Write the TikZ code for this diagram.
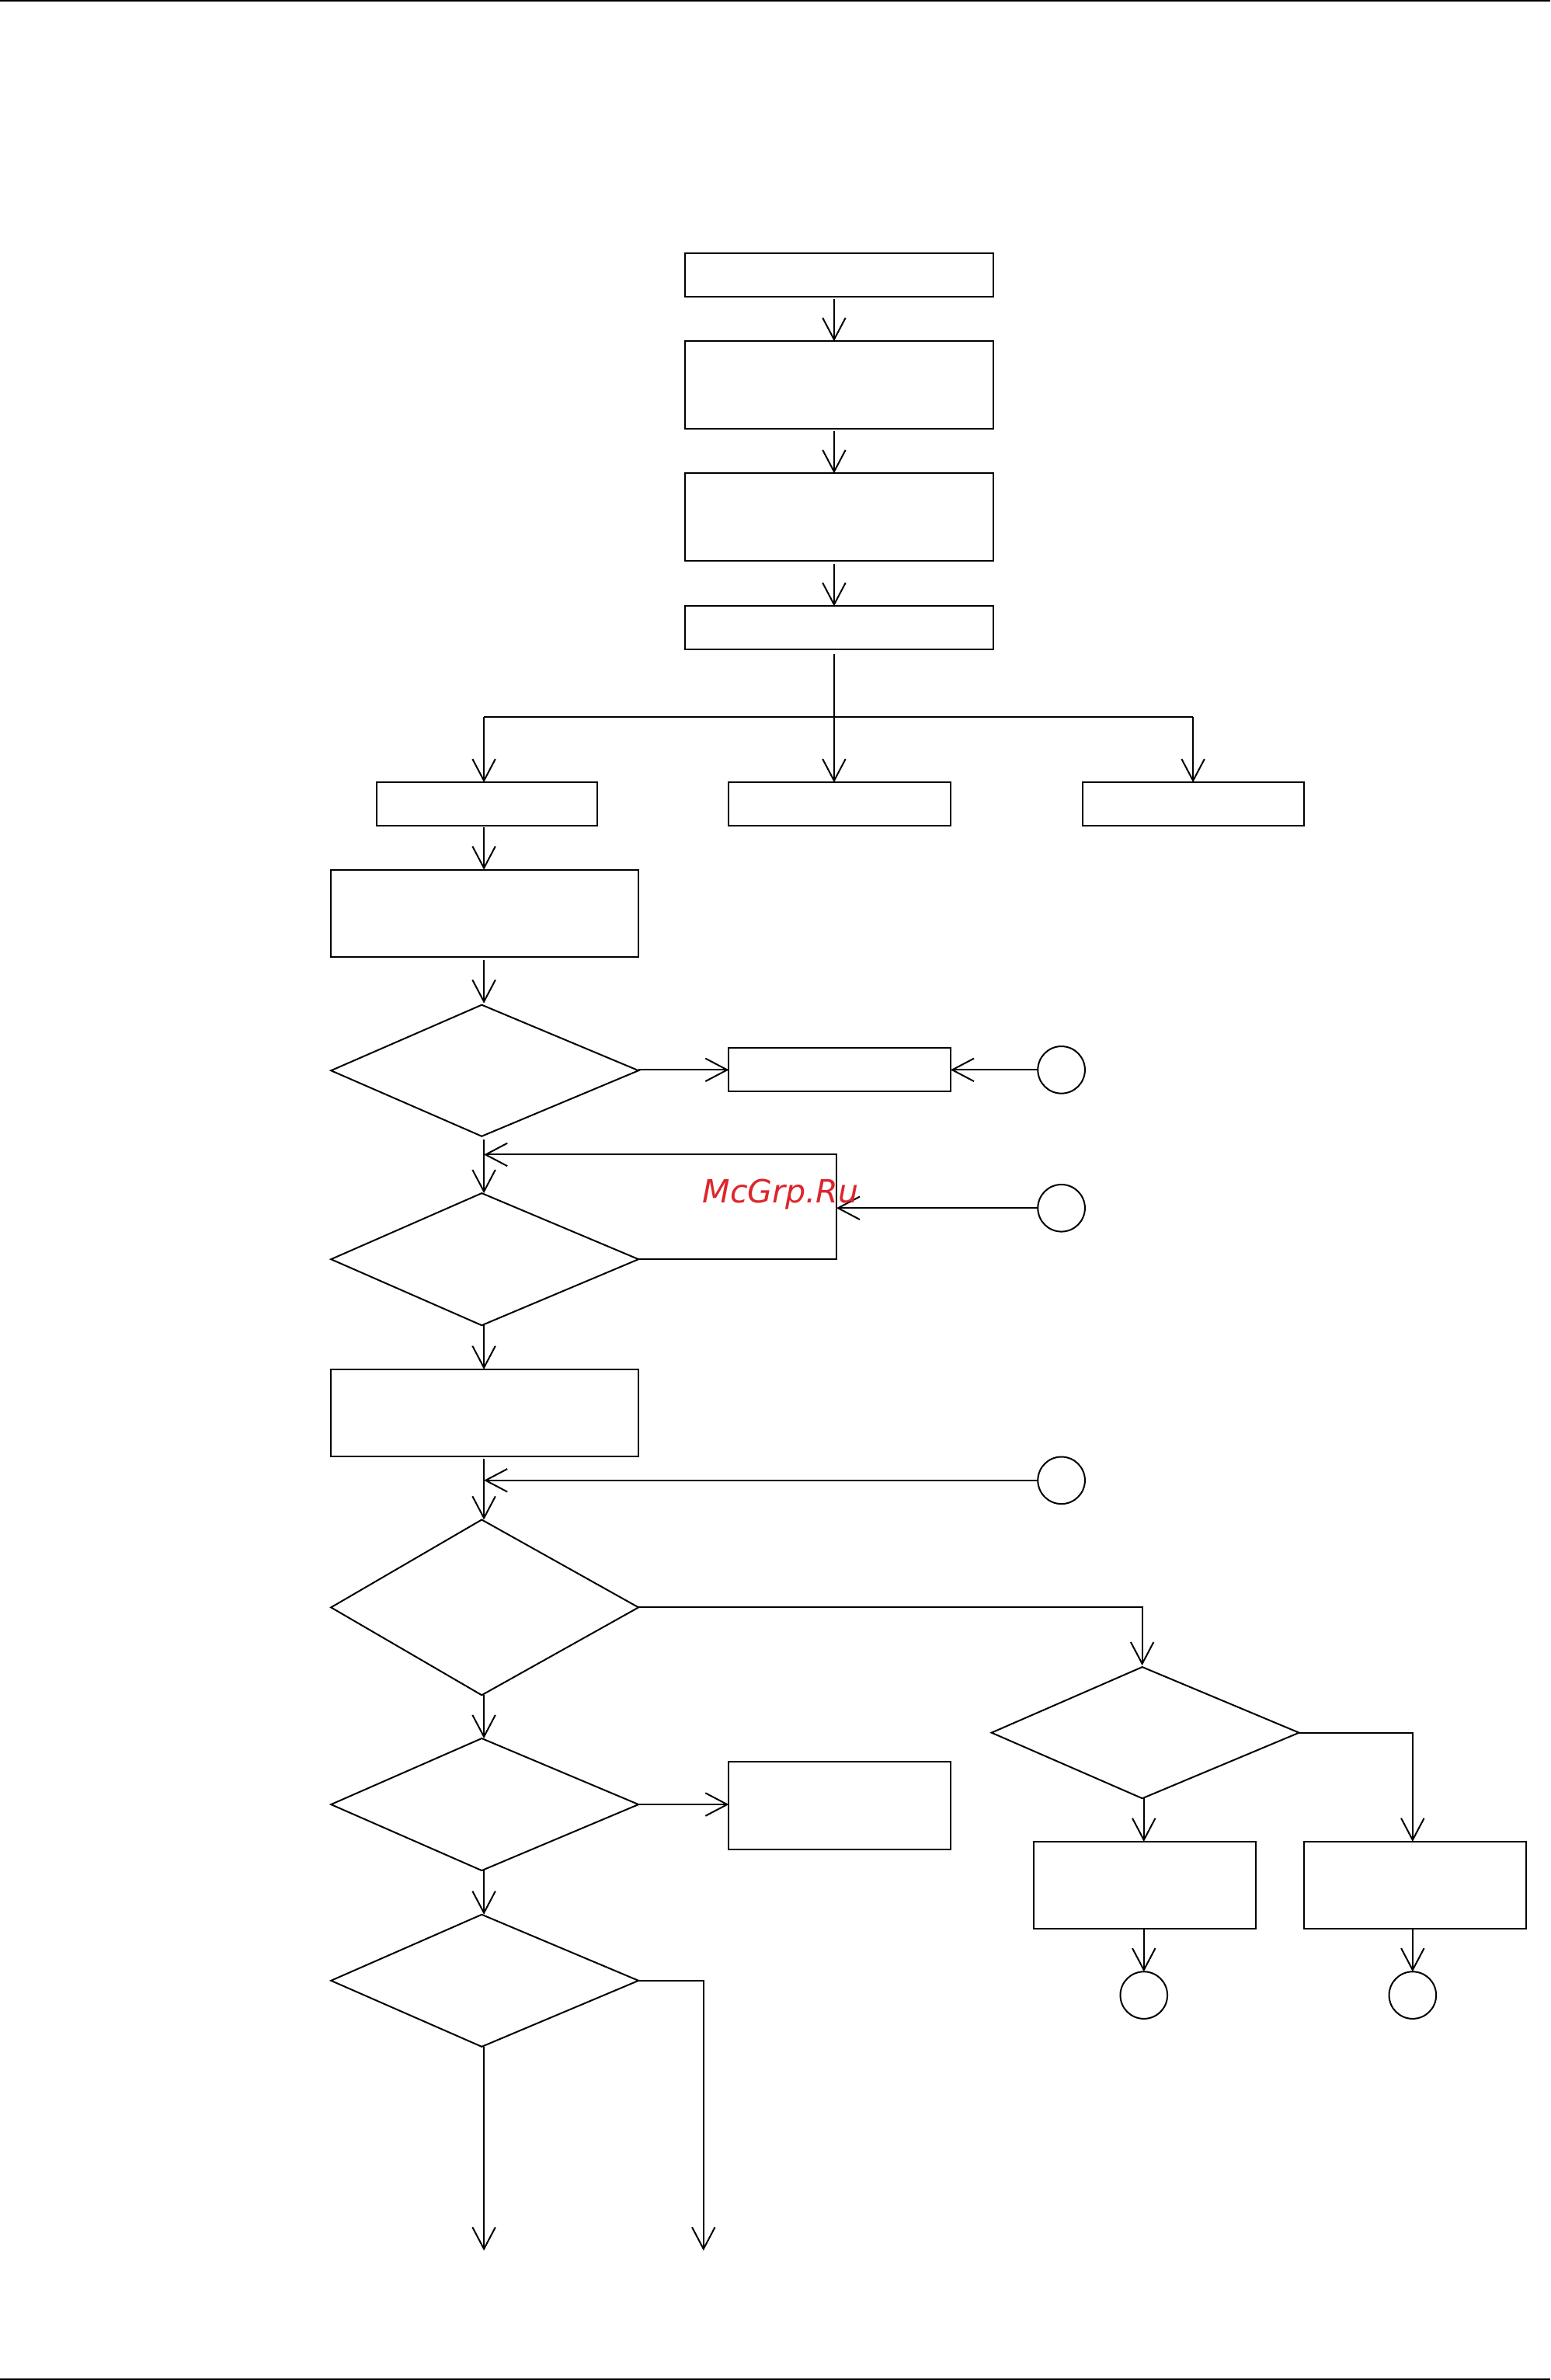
\documentclass[tikz,border=0pt]{standalone}
\usepackage{fontspec}
\setmainfont{DejaVu Sans}
\usetikzlibrary{arrows.meta,shapes.geometric}
\definecolor{mark}{RGB}{221,38,44}
\tikzset{
  x=0.1955mm,y=-0.1955mm,
  every node/.style={inner sep=0pt,outer sep=0pt},
  line/.style={draw=black,line width=0.2mm,line join=miter},
  boxn/.style={line},
  dia/.style={diamond,shape aspect=1},
  circn/.style={line,circle,minimum size=6.06mm},
  arr/.style={line,-{Straight Barb[length=2.8mm,width=2.95mm,line width=0.2mm]}},
}
\newcommand\mybox[5]{\node[boxn,minimum width={(#3-#2)*0.1955mm},minimum height={(#5-#4)*0.1955mm}] (#1) at ({(#2+#3)/2},{(#4+#5)/2}) {};}
\newcommand\mydia[5]{\node[dia,minimum width={(#3-#2)*0.1955mm},minimum height={(#5-#4)*0.1955mm}] (#1) at ({(#2+#3)/2},{(#4+#5)/2}) {};
  \draw[line] (#1.west) -- ([xshift=-0.39mm]#1.north) -- (#1.east) -- ([xshift=-0.39mm]#1.south) -- cycle;}
\begin{document}
\begin{tikzpicture}
\useasboundingbox (0,0) rectangle (1021,1567.2);
% page rules
\coordinate (tl) at (0,0.5); \coordinate (tr) at (1021,0.5);
\coordinate (bl) at (0,1566.7); \coordinate (br) at (1021,1566.7);
\draw[line] (tl) -- (tr);
\draw[line] (bl) -- (br);
% boxes
\mybox{b1}{451}{654}{166.8}{195.3}
\mybox{b2}{451}{654}{224.7}{282.2}
\mybox{b3}{451}{654}{311.7}{369.2}
\mybox{b4}{451}{654}{399.2}{427.7}
\mybox{l1}{248}{393.5}{515.2}{543.7}
\mybox{c1}{480}{626}{515.2}{543.7}
\mybox{r1}{713}{859}{515.2}{543.7}
\mybox{b5}{218}{420.5}{572.7}{630.2}
\mybox{b6}{480}{626}{690.2}{718.7}
\mybox{b7}{218}{420.5}{901.7}{959.2}
\mybox{b8}{480}{626}{1160.2}{1217.7}
\mybox{b9}{681}{827}{1212.7}{1270.2}
\mybox{b10}{859}{1005}{1212.7}{1270.2}
% decisions
\mydia{d1}{218}{420.5}{661.7}{748.2}
\mydia{d2}{218}{420.5}{785.7}{872.7}
\mydia{d3}{218}{420.5}{1000.7}{1116.2}
\mydia{d4}{653}{855.5}{1097.7}{1184.2}
\mydia{d5}{218}{420.5}{1144.7}{1231.7}
\mydia{d6}{218}{420.5}{1260.7}{1347.7}
% connectors' circles
\node[circn] (k1) at (699,704.5) {};
\node[circn] (k2) at (699,795.5) {};
\node[circn] (k3) at (699,974.8) {};
\node[circn] (k4) at (753.3,1313.8) {};
\node[circn] (k5) at (930.3,1313.8) {};
% guide coordinates
\coordinate (sx) at (549.3,0);
\coordinate (lx) at (318.7,0);
\coordinate (rx) at (785.7,0);
\coordinate (bus) at (549.3,472.3);
\coordinate (e1) at (318.7,1482);
\coordinate (e2) at (463.3,1482);
\coordinate (fb) at (550.8,760.3);
\coordinate (d4x) at (752.2,0);
\coordinate (c9x) at (753.3,0);
\coordinate (cAx) at (930.3,0);
% spine
\draw[arr] ([yshift=-0.3mm]b1.south -| sx) -- (b2.north -| sx);
\draw[arr] ([yshift=-0.3mm]b2.south -| sx) -- (b3.north -| sx);
\draw[arr] ([yshift=-0.4mm]b3.south -| sx) -- (b4.north -| sx);
\draw[arr] ([yshift=-0.6mm]b4.south -| sx) -- (c1.north -| sx);
\draw[line] (bus -| lx) -- (bus -| rx);
\draw[arr] (bus -| lx) -- (l1.north -| lx);
\draw[arr] (bus -| rx) -- (r1.north -| rx);
% left column
\draw[arr] ([yshift=-0.2mm]l1.south -| lx) -- (b5.north -| lx);
\draw[arr] ([yshift=-0.4mm]b5.south -| lx) -- ([yshift=0.2mm]d1.north -| lx);
\draw[arr] ([yshift=-0.4mm]d1.south -| lx) -- (d2.north -| lx);
\draw[arr] (d2.south -| lx) -- (b7.north -| lx);
\draw[arr] ([yshift=-0.3mm]b7.south -| lx) -- (d3.north -| lx);
\draw[arr] (d3.south -| lx) -- (d5.north -| lx);
\draw[arr] (d5.south -| lx) -- (d6.north -| lx);
\draw[arr] (d6.south -| lx) -- (e1);
% side branches
\draw[arr] (d1.east |- k1.west) -- (b6.west |- k1.west);
\draw[arr] (k1.west) -- (b6.east |- k1.west);
\draw[arr] (d2.east) -- (d2.east -| fb) -- (fb) -- (fb -| lx);
\draw[arr] (k2.west) -- (k2.west -| fb);
\draw[arr] (k3.west) -- (k3.west -| lx);
\draw[arr] (d3.east) -- (d3.east -| d4x) -- ([yshift=0.2mm]d4.north -| d4x);
\draw[arr] (d5.east) -- (d5.east -| b8.west);
\draw[arr] (d6.east) -- (d6.east -| e2) -- (e2);
\draw[arr] (d4.south -| c9x) -- (b9.north -| c9x);
\draw[arr] (d4.east) -- (d4.east -| cAx) -- (b10.north -| cAx);
\draw[arr] (b9.south -| c9x) -- (k4.north);
\draw[arr] (b10.south -| cAx) -- (k5.north);
% watermark
\node[text=mark,font={\fontsize{11.7pt}{14pt}\selectfont\itshape}] (wm) at (514,786.3) {McGrp.Ru};
\end{tikzpicture}
\end{document}
